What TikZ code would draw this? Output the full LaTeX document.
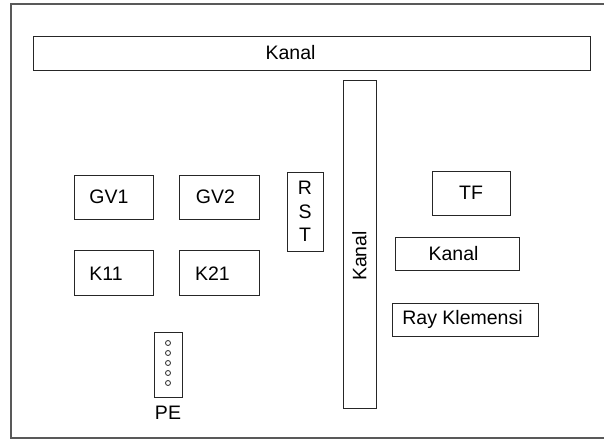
\documentclass[tikz,border=0pt]{standalone}
\usepackage{fontspec}
\setmainfont{Liberation Sans}
\usetikzlibrary{positioning}
\tikzset{
  part/.style={draw=black!85, line width=0.9pt, inner sep=0pt, fill=white, font=\fontsize{19.5}{23.5}\selectfont, align=center},
  txt/.style={font=\fontsize{19.5}{23.5}\selectfont, inner sep=0pt},
  frame/.style={draw=black!65, line width=1.4pt},
  hole/.style={circle, draw=black!85, line width=0.8pt, minimum size=5pt, inner sep=0pt},
}

\begin{document}
\begin{tikzpicture}[x=1pt, y=-1pt]
\useasboundingbox (0,0) rectangle (604,439);
\draw[frame] (610,4) -- (11,4) -- (11,438) -- (610,438);
% channels
\node[part, minimum width=557pt, minimum height=34pt, label={[txt, xshift=-21pt]center:Kanal}] (kanaltop) at (311.5,53) {};
\node[part, minimum width=33pt, minimum height=328pt, label={[txt, yshift=-12pt, rotate=90]center:Kanal}] (kanalv) at (359.5,244) {};
% breakers and contactors
\node[part, minimum width=79pt, minimum height=44pt] (gv1) at (113.5,197) {GV1\hspace{9pt}};
\node[part, minimum width=80pt, minimum height=44pt, right=26pt of gv1] (gv2) {GV2\hspace{9pt}};
\node[part, minimum width=79pt, minimum height=45pt, below=31pt of gv1] (k11) {K11\hspace{15pt}};
\node[part, minimum width=80pt, minimum height=45pt, below=31pt of gv2] (k21) {K21\hspace{15pt}};
\node[part, minimum width=36pt, minimum height=79pt] (rst) at (305,211.5) {R\\S\\T};
% right side
\node[part, minimum width=78pt, minimum height=44pt] (tf) at (471,193) {TF};
\node[part, minimum width=124pt, minimum height=33pt] (kanalr) at (457,253.5) {Kanal\hspace{7pt}};
\node[part, minimum width=146pt, minimum height=33pt] (ray) at (465,319.5) {Ray Klemensi\hspace{5pt}};
% earth bar
\node[part, minimum width=28pt, minimum height=65pt] (pe) at (168,364.5) {};
\foreach \k in {0,...,4}
  \node[hole] (pin\k) at (168,{343+10*\k}) {};
\node[txt, below=8pt of pe] (pelbl) {PE};
\end{tikzpicture}
\end{document}
